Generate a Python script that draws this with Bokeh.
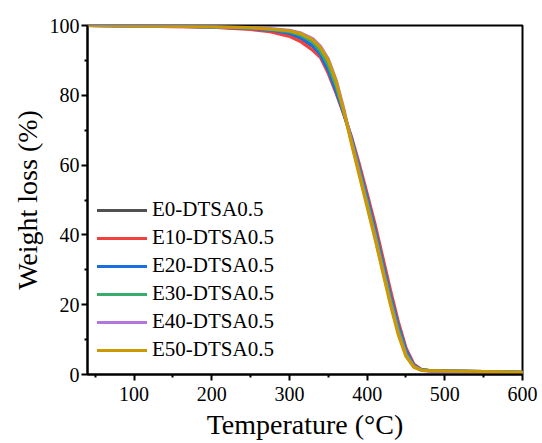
from bokeh.plotting import figure
from bokeh.models import Range1d, FixedTicker, Legend, LegendItem
from bokeh.embed import file_html
from bokeh.resources import INLINE

temperature = [40, 100, 150, 200, 250, 275, 300, 315, 330, 340, 350, 360, 370, 380,
               390, 400, 410, 420, 430, 440, 450, 460, 470, 480, 500, 550, 600]

e0 = [100, 99.9, 99.8, 99.6, 99.1, 98.6, 97.6, 96.3, 94.0, 91.8, 87.6, 81.6, 74.8, 67.5,
      59.2, 50.8, 42.0, 32.5, 23.0, 14.5, 7.0, 2.7, 1.3, 1.1, 1.0, 0.8, 0.6]
e10 = [100, 99.9, 99.7, 99.5, 98.9, 98.2, 96.9, 95.3, 92.9, 90.8, 86.3, 80.6, 74.5, 68.0,
       60.2, 51.8, 43.2, 33.7, 24.2, 15.2, 7.6, 3.0, 1.4, 1.1, 1.0, 0.8, 0.6]
e20 = [100, 99.9, 99.8, 99.6, 99.2, 98.7, 97.8, 96.5, 94.2, 91.6, 87.2, 81.2, 74.8, 67.5,
       59.0, 50.5, 41.5, 32.0, 22.5, 14.0, 6.8, 2.6, 1.3, 1.1, 1.0, 0.8, 0.6]
e30 = [100, 99.9, 99.8, 99.6, 99.3, 98.9, 98.2, 97.2, 95.3, 92.6, 88.7, 82.7, 75.2, 67.0,
       58.3, 49.5, 40.5, 31.0, 21.5, 13.0, 6.0, 2.4, 1.3, 1.1, 1.0, 0.8, 0.6]
e40 = [100, 99.9, 99.8, 99.7, 99.4, 99.1, 98.6, 97.8, 96.2, 94.0, 90.4, 84.4, 76.0, 66.5,
       57.5, 48.5, 39.5, 30.0, 20.5, 12.0, 5.5, 2.2, 1.2, 1.0, 0.9, 0.7, 0.5]
e50 = [100, 99.9, 99.8, 99.7, 99.4, 99.0, 98.5, 97.6, 95.9, 93.6, 90.0, 84.0, 75.6, 66.0,
       57.0, 48.0, 39.0, 29.5, 20.0, 11.5, 5.2, 2.1, 1.2, 1.1, 1.0, 0.8, 0.6]

series_names = ["E0-DTSA0.5", "E10-DTSA0.5", "E20-DTSA0.5", "E30-DTSA0.5", "E40-DTSA0.5", "E50-DTSA0.5"]
series_values = [e0, e10, e20, e30, e40, e50]
colors = ["#515151", "#F14040", "#1A6FDF", "#37AD6B", "#B177DE", "#CC9900"]

x_major = [100, 200, 300, 400, 500, 600]
x_minor = [50, 150, 250, 350, 450, 550]
y_major = [0, 20, 40, 60, 80, 100]
y_minor = [10, 30, 50, 70, 90]

FONT = "Liberation Serif"

p = figure(width=542, height=443, output_backend="svg", toolbar_location=None,
           x_range=Range1d(40, 600), y_range=Range1d(0, 100),
           min_border_left=87, min_border_right=20, min_border_top=25, min_border_bottom=69)

p.xgrid.visible = False
p.ygrid.visible = False
p.outline_line_color = "black"
p.outline_line_width = 2
p.background_fill_color = "white"
p.border_fill_color = "white"

items = []
for name, vals, c in zip(series_names, series_values, colors):
    r = p.line(temperature, vals, line_color=c, line_width=3.2, line_join="round", line_cap="round")
    items.append(LegendItem(label=name, renderers=[r]))

legend = Legend(items=items, location=(10, 12), glyph_width=50, glyph_height=20,
                label_height=20, spacing=3, padding=0, margin=0,
                border_line_alpha=0, background_fill_alpha=0,
                label_text_font=FONT, label_text_font_size="21px", label_text_color="black",
                label_standoff=5)
p.add_layout(legend)

for ax in (p.xaxis[0], p.yaxis[0]):
    ax.axis_line_width = 2
    ax.axis_line_color = "black"
    ax.major_tick_line_width = 2
    ax.minor_tick_line_width = 2
    ax.major_tick_line_color = "black"
    ax.minor_tick_line_color = "black"
    ax.major_tick_out = 6
    ax.major_tick_in = 0
    ax.minor_tick_out = 3
    ax.minor_tick_in = 0
    ax.major_label_text_font = FONT
    ax.major_label_text_font_size = "20px"
    ax.major_label_text_color = "black"
    ax.axis_label_text_font = FONT
    ax.axis_label_text_font_size = "28px"
    ax.axis_label_text_font_style = "normal"
    ax.axis_label_text_color = "black"

p.xaxis.ticker = FixedTicker(ticks=x_major, minor_ticks=x_minor)
p.yaxis.ticker = FixedTicker(ticks=y_major, minor_ticks=y_minor)
p.xaxis.axis_label = "Temperature (°C)"
p.yaxis.axis_label = "Weight loss (%)"
p.xaxis.major_label_standoff = 6
p.yaxis.major_label_standoff = 2
p.xaxis.axis_label_standoff = 5
p.yaxis.axis_label_standoff = 4

open("out.html", "w").write(file_html(p, INLINE))
